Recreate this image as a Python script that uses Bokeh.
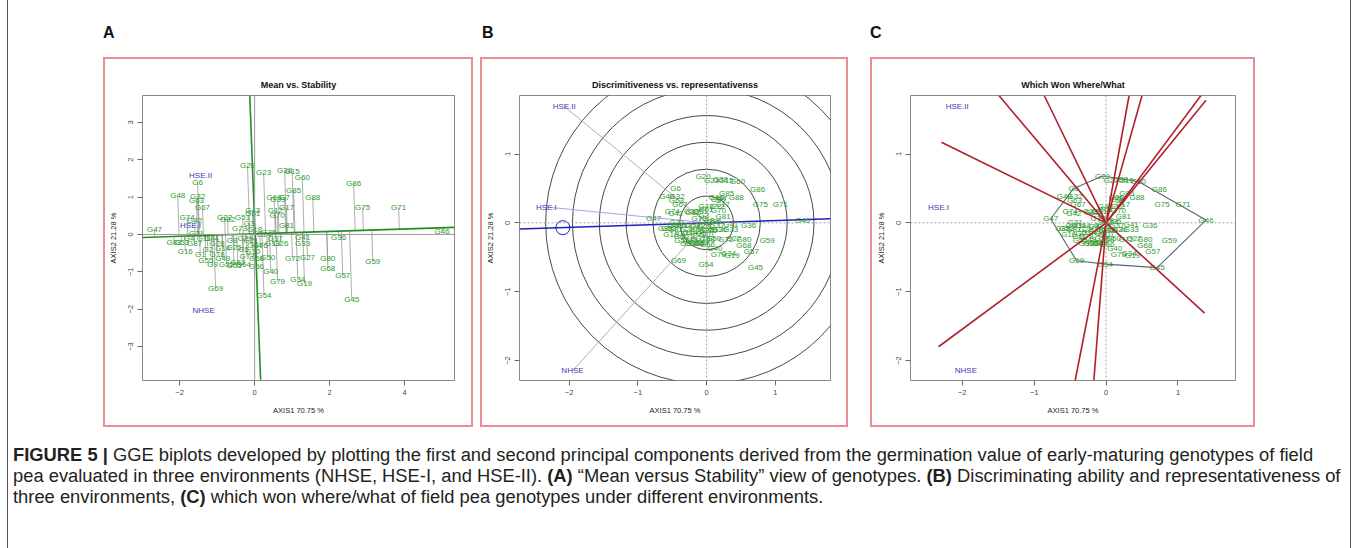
import numpy as np
from bokeh.plotting import figure
from bokeh.models import Range1d, FixedTicker, Spacer, Div, Span
from bokeh.layouts import row, column
from bokeh.embed import file_html
from bokeh.resources import INLINE
from bokeh.core.properties import value

FONT = "Liberation Sans"
GREEN = "#2e9a2e"
BLUE = "#3a3ab4"
RED_BOX = "#e98c94"

# ---------------- data ----------------
genotypes = ["G20", "G23", "G38", "G15", "G60", "G85", "G66", "G39", "G7", "G88",
             "G12", "G17", "G86", "G75", "G71", "G46", "G47", "G48", "G6", "G32",
             "G63", "G67", "G42", "G22", "G82", "G51", "G61", "G3", "G83", "G53",
             "G16", "G78", "G9", "G69", "G62", "G65", "G40", "G79", "G54", "G50",
             "G72", "G27", "G34", "G19", "G80", "G68", "G57", "G45", "G59", "G36",
             "G41", "G33", "G13", "G26", "G11", "G44", "G2", "G14", "G25", "G5",
             "G8", "G10", "G52", "G58", "G21", "G24", "G1", "G4", "G18", "G28",
             "G29", "G31", "G35", "G37", "G43", "G49", "G55", "G56", "G64", "G70",
             "G73", "G74", "G76", "G77", "G81", "G84", "G87"]

# panel A (mean vs stability) coordinates
a_x = [-0.19, 0.24, 0.80, 1.00, 1.27, 1.04, 0.52, 0.62, 0.80, 1.55,
       0.55, 0.85, 2.64, 2.88, 3.84, 5.00, -2.67, -2.05, -1.52, -1.52,
       -1.55, -1.39, -1.60, -0.80, -0.72, -0.32, -0.05, -0.15, -2.15, -1.95,
       -1.85, -1.00, -1.12, -1.04, -0.45, -0.55, 0.43, 0.61, 0.25, 0.35,
       1.01, 1.41, 1.15, 1.33, 1.95, 1.95, 2.35, 2.59, 3.15, 2.24,
       1.28, 1.28, 0.48, 0.70, -1.35, -1.15, -1.25, -0.85, -0.55, -0.30,
       -0.60, -0.05, -0.75, 0.05, -0.10, 0.25, -1.45, -1.75, 0.00, -1.00,
       -0.25, -1.55, 0.38, 0.55, -0.05, -0.85, -1.30, 0.05, -0.30, 0.60,
       -0.40, -1.80, 0.15, -0.20, 0.85, 0.00, -1.60]
a_y = [1.84, 1.65, 1.70, 1.68, 1.52, 1.17, 1.00, 0.93, 0.98, 1.00,
       0.65, 0.72, 1.36, 0.72, 0.72, 0.08, 0.13, 1.04, 1.39, 1.02,
       0.90, 0.72, 0.38, 0.45, 0.40, 0.45, 0.55, 0.30, -0.21, -0.21,
       -0.45, -0.53, -0.80, -1.44, -0.75, -0.82, -0.99, -1.25, -1.63, -0.61,
       -0.65, -0.61, -1.20, -1.31, -0.64, -0.90, -1.10, -1.73, -0.72, -0.08,
       -0.08, -0.25, -0.25, -0.25, -0.10, -0.10, -0.40, -0.38, -0.35, -0.40,
       -0.15, -0.45, -0.80, -0.65, -0.15, 0.00, -0.55, -0.10, 0.12, -0.25,
       -0.10, 0.02, 0.05, -0.12, 0.65, -0.65, -0.70, -0.85, -0.80, 0.50,
       0.15, 0.45, -0.30, -0.60, 0.25, -0.30, -0.25]

# panels B and C coordinates
bc_x = [-0.05, 0.07, 0.20, 0.28, 0.45, 0.29, 0.14, 0.17, 0.22, 0.43,
        0.15, 0.23, 0.74, 0.78, 1.07, 1.39, -0.77, -0.58, -0.45, -0.43,
        -0.44, -0.39, -0.45, -0.22, -0.20, -0.09, -0.01, -0.04, -0.60, -0.55,
        -0.52, -0.28, -0.31, -0.41, -0.13, -0.15, 0.12, 0.17, -0.01, 0.10,
        0.28, 0.39, 0.32, 0.37, 0.54, 0.54, 0.65, 0.71, 0.88, 0.61,
        0.35, 0.35, 0.13, 0.19, -0.38, -0.32, -0.35, -0.24, -0.15, -0.08,
        -0.17, -0.01, -0.21, 0.01, -0.03, 0.07, -0.40, -0.49, 0.00, -0.28,
        -0.07, -0.43, 0.11, 0.15, -0.01, -0.24, -0.36, 0.01, -0.08, 0.17,
        -0.11, -0.50, 0.04, -0.06, 0.24, 0.00, -0.45]
bc_y = [0.68, 0.61, 0.63, 0.62, 0.60, 0.43, 0.37, 0.34, 0.36, 0.37,
        0.24, 0.27, 0.48, 0.26, 0.26, 0.04, 0.06, 0.39, 0.50, 0.38,
        0.33, 0.27, 0.14, 0.17, 0.15, 0.17, 0.20, 0.11, -0.08, -0.08,
        -0.17, -0.20, -0.30, -0.55, -0.28, -0.30, -0.37, -0.46, -0.60, -0.23,
        -0.24, -0.23, -0.44, -0.48, -0.24, -0.33, -0.41, -0.65, -0.26, -0.04,
        -0.03, -0.09, -0.09, -0.09, -0.04, -0.04, -0.15, -0.14, -0.13, -0.15,
        -0.06, -0.17, -0.30, -0.24, -0.06, 0.00, -0.20, -0.04, 0.04, -0.09,
        -0.04, 0.01, 0.02, -0.04, 0.24, -0.24, -0.26, -0.31, -0.30, 0.18,
        0.06, 0.17, -0.11, -0.22, 0.09, -0.11, -0.09]

env_names = ["HSE.II", "HSE.I", "NHSE"]
a_env_x = [-1.44, -1.71, -1.36]
a_env_y = [1.57, 0.24, -2.03]
bc_env_x = [-2.07, -2.33, -1.95]
bc_env_y = [1.69, 0.23, -2.15]

# average-environment axis (A) and its perpendicular
a_aec_x = [-2.99, 5.33]
a_aec_y = [-0.08, 0.19]
a_perp_x = [-0.13, 0.16]
a_perp_y = [3.72, -3.89]

# B: average environment axis, marker, concentric circles
b_aec_x = [-2.72, 1.80]
b_aec_y = [-0.09, 0.06]
b_mark_x = [-2.09]
b_mark_y = [-0.07]
b_radii = [0.39, 0.78, 1.17, 1.56, 1.95, 2.34]

# C: polygon vertices and sector rays
c_hull = ["G20", "G60", "G46", "G45", "G54", "G69", "G47", "G6"]
c_ray_x = [-2.29, -1.49, -0.86, 0.32, 0.50, 1.32, 1.39, 1.37, -2.33, -0.43, -0.17]
c_ray_y = [1.17, 1.85, 1.85, 1.85, 1.85, 1.85, 1.78, -1.31, -1.80, -2.29, -2.29]

caption_lines = [
    "<b>FIGURE 5 |</b> GGE biplots developed by plotting the first and second principal components derived from the germination value of early-maturing genotypes of field",
    "pea evaluated in three environments (NHSE, HSE-I, and HSE-II). <b>(A)</b> \u201cMean versus Stability\u201d view of genotypes. <b>(B)</b> Discriminating ability and representativeness of",
    "three environments, <b>(C)</b> which won where/what of field pea genotypes under different environments.",
]


# ---------------- helpers ----------------
def bar(w, h, color):
    return Spacer(width=w, height=h, margin=0, styles={"background-color": color})


def base_fig(w, h, xr, yr, bl, br, bt, bb, title, xt, yt):
    p = figure(width=w, height=h, x_range=Range1d(*xr), y_range=Range1d(*yr),
               output_backend="svg", toolbar_location=None,
               min_border_left=bl, min_border_right=br,
               min_border_top=bt, min_border_bottom=bb,
               background_fill_color="white", border_fill_color="white")
    p.title.text = title
    p.title.align = "center"
    p.title.text_font = FONT
    p.title.text_font_size = "9px"
    p.title.text_font_style = "bold"
    p.title.text_color = "#111111"
    p.title.standoff = 11
    p.grid.visible = False
    p.outline_line_color = "#8a8a8a"
    p.outline_line_width = 1
    p.xaxis.ticker = FixedTicker(ticks=xt)
    p.yaxis.ticker = FixedTicker(ticks=yt)
    p.xaxis.axis_label = "AXIS1 70.75 %"
    p.yaxis.axis_label = "AXIS2 21.28 %"
    p.axis.axis_line_color = None
    p.axis.major_label_text_font = FONT
    p.axis.major_label_text_font_size = "7.5px"
    p.axis.major_label_text_color = "#444444"
    p.axis.axis_label_text_font = FONT
    p.axis.axis_label_text_font_size = "7.5px"
    p.axis.axis_label_text_font_style = "normal"
    p.axis.axis_label_text_color = "#222222"
    p.axis.major_tick_out = 5
    p.axis.major_tick_in = 0
    p.axis.major_tick_line_color = "#666666"
    p.axis.minor_tick_line_color = None
    p.axis.major_label_standoff = 4
    p.axis.axis_label_standoff = 8
    p.yaxis.major_label_orientation = "vertical"
    return p


def boxed(p, w, h):
    inner = row(bar(2, h - 4, RED_BOX), p, bar(2, h - 4, RED_BOX), spacing=0)
    return column(bar(w, 2, RED_BOX), inner, bar(w, 2, RED_BOX), spacing=0)


def geno_text(p, xs, ys):
    p.text(x=xs, y=ys, text=genotypes, text_font=value(FONT), text_font_size="8px",
           text_color=GREEN, text_align="center", text_baseline="middle")


def env_text(p, xs, ys):
    p.text(x=xs, y=ys, text=env_names, text_font=value(FONT), text_font_size="8px",
           text_color=BLUE, text_align="center", text_baseline="middle")


# ---------------- panel A ----------------
pA = base_fig(366, 366, (-2.99, 5.33), (-3.91, 3.72), 37, 17, 36, 45,
              "Mean vs. Stability", [-2, 0, 2, 4], [-3, -2, -1, 0, 1, 2, 3])
pA.add_layout(Span(location=0, dimension="width", line_color="#9a9a9a", line_width=1))
pA.add_layout(Span(location=0, dimension="height", line_color="#9a9a9a", line_width=1))
gx = np.array(a_x)
gy = np.array(a_y)
dx = a_aec_x[1] - a_aec_x[0]
dy = a_aec_y[1] - a_aec_y[0]
tt = ((gx - a_aec_x[0]) * dx + (gy - a_aec_y[0]) * dy) / (dx * dx + dy * dy)
fx = a_aec_x[0] + tt * dx
fy = a_aec_y[0] + tt * dy
pA.segment(x0=gx, y0=gy, x1=fx, y1=fy, line_color="#8c8c8c", line_width=0.7)
pA.line(a_aec_x, a_aec_y, line_color="#1f8f1f", line_width=1.6)
pA.line(a_perp_x, a_perp_y, line_color="#1f8f1f", line_width=1.6)
geno_text(pA, a_x, a_y)
env_text(pA, a_env_x, a_env_y)

# ---------------- panel B ----------------
pB = base_fig(364, 366, (-2.72, 1.80), (-2.29, 1.85), 36, 16, 36, 45,
              "Discrimitiveness vs. representativenss", [-2, -1, 0, 1], [-2, -1, 0, 1])
pB.add_layout(Span(location=0, dimension="width", line_color="#a0a0a0", line_width=1, line_dash="2 2"))
pB.add_layout(Span(location=0, dimension="height", line_color="#a0a0a0", line_width=1, line_dash="2 2"))
pB.circle(x=[0] * len(b_radii), y=[0] * len(b_radii), radius=b_radii,
          fill_color=None, line_color="#333333", line_width=0.9)
pB.segment(x0=[0, 0, 0], y0=[0, 0, 0], x1=bc_env_x, y1=bc_env_y,
           line_color=["#b0b0b0", "#a8a8d8", "#b0b0b0"], line_width=1)
pB.line(b_aec_x, b_aec_y, line_color="#2020c0", line_width=1.6)
pB.scatter(b_mark_x, b_mark_y, marker="circle", size=14, fill_color=None,
           line_color="#2020c0", line_width=1)
geno_text(pB, bc_x, bc_y)
env_text(pB, bc_env_x, bc_env_y)

# ---------------- panel C ----------------
pC = base_fig(381, 366, (-2.72, 1.80), (-2.29, 1.85), 38, 18, 36, 45,
              "Which Won Where/What", [-2, -1, 0, 1], [-2, -1, 0, 1])
pC.add_layout(Span(location=0, dimension="width", line_color="#a0a0a0", line_width=1, line_dash="2 2"))
pC.add_layout(Span(location=0, dimension="height", line_color="#a0a0a0", line_width=1, line_dash="2 2"))
idx = [genotypes.index(g) for g in c_hull] + [genotypes.index(c_hull[0])]
pC.line([bc_x[i] for i in idx], [bc_y[i] for i in idx], line_color="#5a6868", line_width=1.1)
geno_text(pC, bc_x, bc_y)
pC.segment(x0=[0] * len(c_ray_x), y0=[0] * len(c_ray_x), x1=c_ray_x, y1=c_ray_y,
           line_color="#b0202c", line_width=1.6)
env_text(pC, bc_env_x, bc_env_y)

# ---------------- layout ----------------
def letter(t, w):
    return Div(text=f'<div style="font-family:{FONT};font-weight:bold;font-size:16px;'
                    f'line-height:16px;padding-top:25px;color:#111">{t}</div>',
               width=w, height=57, margin=0)


letters = row(Spacer(width=95, height=57), letter("A", 379), letter("B", 388), letter("C", 120),
              spacing=0)
panels = row(Spacer(width=95, height=370), boxed(pA, 370, 370), Spacer(width=7, height=370),
             boxed(pB, 368, 370), Spacer(width=22, height=370), boxed(pC, 385, 370), spacing=0)
cap = Div(text='<div style="font-family:Liberation Sans;font-size:18.35px;line-height:21px;'
               'white-space:nowrap;color:#231f20;padding-top:17px">' + "<br>".join(caption_lines) + '</div>',
          width=1334, height=121, margin=0)
caption = row(Spacer(width=5, height=121), cap, spacing=0)
main = column(letters, panels, caption, spacing=0, width=1342, height=548)
root = row(Spacer(width=7, height=548), bar(1, 548, "#555555"), main, bar(1, 548, "#555555"), spacing=0)

open("out.html", "w").write(file_html(root, INLINE))
